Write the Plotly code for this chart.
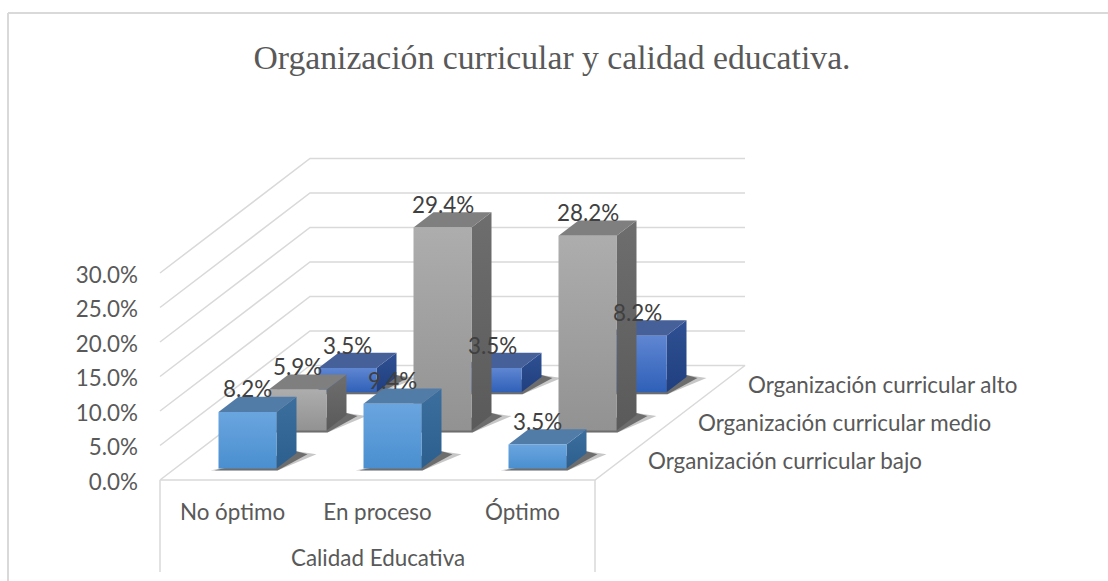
import plotly.graph_objects as go

# ---- data ----
categories = ["No óptimo", "En proceso", "Óptimo"]
series_names = ["Organización curricular bajo", "Organización curricular medio", "Organización curricular alto"]
bajo = [8.2, 9.4, 3.5]
medio = [5.9, 29.4, 28.2]
alto = [3.5, 3.5, 8.2]
y_ticks = [0, 5, 10, 15, 20, 25, 30]
y_tick_labels = ["0.0%", "5.0%", "10.0%", "15.0%", "20.0%", "25.0%", "30.0%"]
title_text = "Organización curricular y calidad educativa."
group_title = "Calidad Educativa"

# ---- styling and oblique projection ----
W, H = 1108, 581
PX_X = 145.0     # px per category
PX_Y = 6.9       # px per percentage point
X0_PX, Y0_PX = 160.0, 480.0
ROW_DX = 50.0 / PX_X      # depth shift per row, category units
ROW_DY = 38.17 / PX_Y     # depth shift per row, value units
BAR_W = 0.4
BAR_D = 0.4
px = lambda p: p / PX_X
py = lambda p: p / PX_Y
TXT = "#595959"
LBL = "#404040"
GRID = "#D9D9D9"
FONT = "Lato"
FS = 22.4

styles = [
    dict(front=["#4A8FD0", "#6AA5DF"], side=["#2C5F8E", "#3C6F9E"], top="#527CA8"),
    dict(front=["#929292", "#ADADAD"], side=["#5A5A5A", "#6E6E6E"], top="#7F7F7F"),
    dict(front=["#2F60B8", "#5F86D2"], side=["#1F3F80", "#2F5092"], top="#46609A"),
]
rows = [bajo, medio, alto]


def proj(cat, val, depth):
    """category position, value and depth (rows) -> axis coordinates"""
    return cat + depth * ROW_DX, val + depth * ROW_DY


def poly(points, **kw):
    xs = [p[0] for p in points] + [points[0][0]]
    ys = [p[1] for p in points] + [points[0][1]]
    return go.Scatter(x=xs, y=ys, mode="lines", fill="toself", line=dict(width=0),
                      hoverinfo="skip", showlegend=False, **kw)


def vgrad(colors):
    return dict(type="vertical", colorscale=[[0, colors[0]], [1, colors[1]]])


fig = go.Figure()
x_left, x_right = -0.5, len(categories) - 0.5
n_rows = len(rows)

# walls
for t in y_ticks[1:]:
    a = proj(x_left, t, 0)
    b = proj(x_left, t, n_rows)
    c = proj(x_right, t, n_rows)
    fig.add_trace(go.Scatter(x=[a[0], b[0], c[0]], y=[a[1], b[1], c[1]], mode="lines",
                             line=dict(color=GRID, width=1.5), hoverinfo="skip", showlegend=False))
# floor
corners = [proj(x_left, 0, 0), proj(x_left, 0, n_rows), proj(x_right, 0, n_rows), proj(x_right, 0, 0)]
fig.add_trace(go.Scatter(x=[p[0] for p in corners] + [corners[0][0]],
                         y=[p[1] for p in corners] + [corners[0][1]], mode="lines",
                         line=dict(color=GRID, width=1.5), hoverinfo="skip", showlegend=False))
# multi-level axis separators
for xv in (x_left, x_right):
    fig.add_trace(go.Scatter(x=[xv, xv], y=[0, -py(92)], mode="lines",
                             line=dict(color=GRID, width=1.5), hoverinfo="skip", showlegend=False))

# bars, back row first
for r in range(n_rows - 1, -1, -1):
    st = styles[r]
    d0 = r + (1 - BAR_D) / 2
    d1 = d0 + BAR_D
    for c, v in enumerate(rows[r]):
        cl, cr = c - BAR_W / 2, c + BAR_W / 2
        # soft contact shadow
        bx, by = proj(cr, 0, d0)
        lx, ly = proj(cl, 0, d0)
        ex, ey = proj(cr, 0, d1)
        for grow, col in ((1.0, "rgba(0,0,0,0.22)"), (0.55, "rgba(0,0,0,0.45)")):
            fig.add_trace(poly([(lx - px(8 * grow), ly - py(2)), (bx + px(1), by - py(2)),
                                (ex + px(20 * grow), ey - py(1)), (ex, ey + py(2))], fillcolor=col))
        # side
        fig.add_trace(poly([proj(cr, 0, d0), proj(cr, 0, d1), proj(cr, v, d1), proj(cr, v, d0)],
                           fillgradient=vgrad(st["side"])))
        # top
        fig.add_trace(poly([proj(cl, v, d0), proj(cr, v, d0), proj(cr, v, d1), proj(cl, v, d1)],
                           fillcolor=st["top"]))
        # front
        fig.add_trace(poly([proj(cl, 0, d0), proj(cr, 0, d0), proj(cr, v, d0), proj(cl, v, d0)],
                           fillgradient=vgrad(st["front"])))

# data labels
for r in range(n_rows - 1, -1, -1):
    d0 = r + (1 - BAR_D) / 2
    for c, v in enumerate(rows[r]):
        xv, yv = proj(c, v, d0)
        fig.add_annotation(x=xv, y=yv, yshift=23, text=f"{v:.1f}%", showarrow=False,
                           xanchor="center", yanchor="middle",
                           font=dict(family=FONT, size=FS, color=LBL))

# depth axis labels
for r, name in enumerate(series_names):
    xv, yv = proj(x_right, 0, r + 0.5)
    fig.add_annotation(x=xv, y=yv, xshift=26, text=name, showarrow=False,
                       xanchor="left", yanchor="middle",
                       font=dict(family=FONT, size=FS, color=TXT))

fig.add_annotation(x=1, y=-py(77), text=group_title, showarrow=False, xanchor="center", yanchor="middle",
                   font=dict(family=FONT, size=FS, color=TXT))

fig.update_layout(
    width=W, height=H, margin=dict(l=0, r=0, t=0, b=0),
    paper_bgcolor="white", plot_bgcolor="white", showlegend=False,
    title=dict(text=title_text, x=552 / W, y=1 - 57 / H, xanchor="center", yanchor="middle",
               font=dict(family="Liberation Serif", size=33.7, color=TXT)),
    xaxis=dict(range=[-0.5 - X0_PX / PX_X, (W - X0_PX) / PX_X - 0.5], tickmode="array",
               tickvals=list(range(len(categories))), ticktext=categories, showgrid=False,
               zeroline=False, showline=False, ticks="", ticklabelstandoff=17,
               anchor="free", position=1 - Y0_PX / H, domain=[0, 1],
               tickfont=dict(family=FONT, size=FS, color=TXT)),
    yaxis=dict(range=[-(H - Y0_PX) / PX_Y, Y0_PX / PX_Y], tickmode="array", tickvals=y_ticks,
               ticktext=y_tick_labels, showgrid=False, zeroline=False, showline=False,
               ticks="", ticklabelstandoff=22, ticklabelshift=2, anchor="free",
               position=X0_PX / W, domain=[0, 1],
               tickfont=dict(family=FONT, size=FS, color=TXT)),
    shapes=[
        dict(type="line", xref="paper", yref="paper", x0=8 / W, x1=1, y0=1 - 13 / H, y1=1 - 13 / H,
             line=dict(color=GRID, width=2)),
        dict(type="line", xref="paper", yref="paper", x0=8 / W, x1=8 / W, y0=0, y1=1 - 13 / H,
             line=dict(color=GRID, width=2)),
    ],
)

fig.write_html("out.html", config={"displayModeBar": False},
               post_script="document.body.style.margin='0';")
